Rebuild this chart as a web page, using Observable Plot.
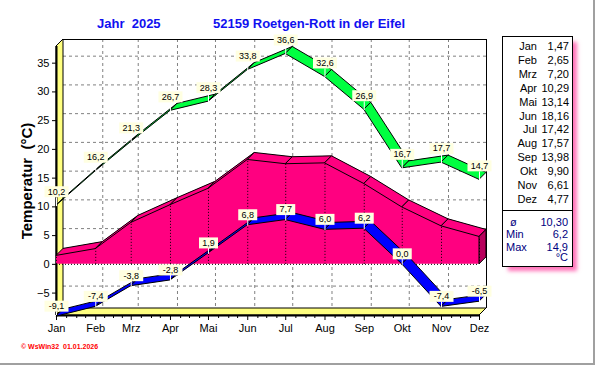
<!DOCTYPE html>
<html>
<head>
<meta charset="utf-8">
<script src="https://cdn.jsdelivr.net/npm/d3@7"></script>
<script src="https://cdn.jsdelivr.net/npm/@observablehq/plot@0.6"></script>
<style>
  body { margin: 0; background: #fff; }
  #wrap { position: relative; width: 595px; height: 365px; overflow: hidden; background: #fff;
          font-family: "Liberation Sans", Arial, sans-serif; }
  #wrap svg { position: absolute; left: 0; top: 0; }
  .ov { position: absolute; white-space: pre; }
  .title { font-size: 13px; font-weight: bold; color: #1010f0; line-height: 16px; top: 16px; }
  .legend { position: absolute; left: 502px; top: 36px; width: 71px; height: 231px; box-sizing: border-box;
            border: 1px solid #000; background: #fff; font-size: 11px; line-height: 14px;
            box-shadow: 5px 5px 4px -1px rgba(255, 0, 128, 0.55); }
  .legend div { position: absolute; white-space: pre; }
  .stat { color: #000080; }
  .credit { left: 21px; top: 342px; font-size: 7px; line-height: 10px; font-weight: bold; color: #ff0000; }
</style>
</head>
<body>
<div id="wrap"></div>
<script>
// ---------- data ----------
const months = ["Jan", "Feb", "Mrz", "Apr", "Mai", "Jun", "Jul", "Aug", "Sep", "Okt", "Nov", "Dez"];
const maxT  = [10.2, 16.2, 21.3, 26.7, 28.3, 33.8, 36.6, 32.6, 26.9, 16.7, 17.7, 14.7];
const minT  = [-9.1, -7.4, -3.8, -2.8, 1.9, 6.8, 7.7, 6.0, 6.2, 0.0, -7.4, -6.5];
const meanT = [1.47, 2.65, 7.20, 10.29, 13.14, 18.16, 17.42, 17.57, 13.98, 9.90, 6.61, 4.77];
const yTicks = [-5, 0, 5, 10, 15, 20, 25, 30, 35];
const statLabels = ["ø", "Min", "Max"];
const statValues = ["10,30", "6,2", "14,9"];
const unitLabel = "°C";
const title1 = "Jahr  2025";
const title2 = "52159 Roetgen-Rott in der Eifel";
const yLabel = "Temperatur\u00a0 (°C)";
const credit = "© WsWin32  01.01.2026";

// ---------- derived ----------
const monthStarts = months.map((m, i) => new Date(Date.UTC(2025, i, 1)));
const rows = months.map((m, i) => ({date: monthStarts[i], month: m, max: maxT[i], min: minT[i], mean: meanT[i]}));
const fmt1 = v => v.toFixed(1).replace(".", ",");
const fmt2 = v => v.toFixed(2).replace(".", ",");
const yDomain = [-8.9, 37.9];
const first = monthStarts[0], last = monthStarts[11];

// minor ticks: quarter-month positions
const minorTicks = [];
for (let i = 0; i < 11; i++) {
  const len = d3.utcDay.count(monthStarts[i], monthStarts[i + 1]);
  for (let k = 1; k <= 3; k++) minorTicks.push(d3.utcDay.offset(monthStarts[i], Math.round(len * k / 4)));
}

// ---------- styles ----------
const D = 7; // 3D depth in px
const PINK = "#ff0080", PINK_SIDE = "#b8005c", GREEN = "#00ff40", BLUE = "#0000ff", YELLOW = "#ffff80", TIP = "#ffffe1";

// extrusion render: draws each segment as a parallelogram shifted by (D, -D)
function extrude(fill, sw = 1) {
  return (index, scales, values) => {
    const X = values.x, Y = values.y;
    const g = d3.create("svg:g");
    for (let k = 0; k < index.length - 1; k++) {
      const i = index[k], j = index[k + 1];
      g.append("path")
        .attr("d", `M${X[i]},${Y[i]}L${X[j]},${Y[j]}L${X[j] + D},${Y[j] - D}L${X[i] + D},${Y[i] - D}Z`)
        .attr("fill", fill).attr("stroke", "#000").attr("stroke-width", sw).attr("stroke-linejoin", "round");
    }
    return g.node();
  };
}
const boxSymbol = {draw(ctx, size) { const w = Math.sqrt(size / Math.PI); ctx.rect(-w, -5.5, 2 * w, 11); }};
const lineShape = {draw(ctx, l) { ctx.moveTo(0, 0); ctx.lineTo(0, -l); }};
const halfW = s => (s.length * 5 + 4) / 2;

const wallPts = [{date: first, v: yDomain[1]}, {date: first, v: yDomain[0]}];
const floorPts = [{date: first, v: yDomain[0]}, {date: last, v: yDomain[0]}];
const sidePts = [{date: last, v: 0}, {date: last, v: meanT[11]}];

function labels(key, dy, tick) {
  return [
    Plot.vector(rows, {x: "date", y: key, length: tick, rotate: 0, anchor: "start", shape: lineShape, stroke: "#fff", strokeWidth: 1}),
    Plot.dot(rows, {x: "date", y: key, dy, symbol: boxSymbol, r: d => halfW(fmt1(d[key])), fill: TIP, stroke: null}),
    Plot.text(rows, {x: "date", y: key, dy, text: d => fmt1(d[key]), fontSize: 9, fill: "#000"})
  ];
}

const chart = Plot.plot({
  width: 595, height: 365,
  marginLeft: 56, marginRight: 116, marginTop: 46, marginBottom: 50,
  style: {background: "transparent", fontFamily: "'Liberation Sans', Arial, sans-serif", fontSize: "11px", overflow: "visible", color: "#000"},
  x: {type: "utc", domain: [first, last], label: null},
  y: {domain: yDomain, label: null},
  r: {type: "identity"},
  marks: [
    // back wall grid
    Plot.gridY(yTicks, {dx: D, dy: -D, stroke: "#808080", strokeOpacity: 1, strokeDasharray: "3,3"}),
    Plot.gridX(monthStarts.slice(1, -1), {dx: D, dy: -D, stroke: "#808080", strokeOpacity: 1, strokeDasharray: "3,3"}),
    Plot.ruleY([yDomain[1]], {dx: D, dy: -D, stroke: "#000"}),
    Plot.ruleX([last], {dx: D, dy: -D, stroke: "#000"}),
    // floor and left wall
    Plot.line(floorPts, {x: "date", y: "v", render: extrude(YELLOW)}),
    Plot.line(wallPts, {x: "date", y: "v", render: extrude(YELLOW)}),
    Plot.ruleX([first], {stroke: "#000", strokeWidth: 2}),
    Plot.ruleY([yDomain[0]], {stroke: "#000", strokeWidth: 2}),
    // mean: 3D pink area
    Plot.areaY(rows, {x: "date", y: "mean", fill: PINK, dx: D, dy: -D}),
    Plot.areaY(rows, {x: "date", y: "mean", fill: PINK}),
    Plot.line(rows, {x: "date", y: "mean", render: extrude(PINK)}),
    Plot.line(sidePts, {x: "date", y: "v", render: extrude(PINK_SIDE)}),
    Plot.ruleX(rows, {x: "date", y1: 0, y2: "mean", stroke: "#000", strokeDasharray: "1,2"}),
    Plot.ruleY([0], {stroke: "#000", strokeDasharray: "1,2"}),
    // max & min ribbons
    Plot.line(rows, {x: "date", y: "max", render: extrude(GREEN)}),
    Plot.line(rows, {x: "date", y: "min", render: extrude(BLUE)}),
    // value labels
    ...labels("max", -14, 8),
    ...labels("min", -10.5, 5),
    // axes
    Plot.axisY(yTicks, {tickSize: 4, tickPadding: 3, fontSize: 11, label: null, stroke: "#000"}),
    Plot.axisX(monthStarts, {tickSize: 5, tickPadding: 4, fontSize: 11, label: null, tickFormat: d => months[d.getUTCMonth()]}),
    Plot.axisX(minorTicks, {tickSize: 3, label: null, tickFormat: () => ""}),
    Plot.text([yLabel], {frameAnchor: "left", rotate: -90, dx: -29, textAnchor: "middle", fontSize: 15, fontWeight: "bold", fill: "#000"})
  ]
});

const wrap = document.getElementById("wrap");
wrap.appendChild(chart);

function ov(cls, text, left) {
  const d = document.createElement("div");
  d.className = "ov " + cls; d.textContent = text;
  if (left != null) d.style.left = left + "px";
  wrap.appendChild(d);
  return d;
}
ov("title", title1, 97);
ov("title", title2, 213);
ov("credit", credit);

// legend box
const lg = document.createElement("div");
lg.className = "legend";
function cell(text, top, left, width, align, cls) {
  const d = document.createElement("div");
  d.textContent = text;
  d.style.top = top + "px"; d.style.left = left + "px"; d.style.width = width + "px"; d.style.textAlign = align;
  if (cls) d.className = cls;
  lg.appendChild(d);
}
months.forEach((m, i) => {
  cell(m, 2 + i * 13.9, 0, 34, "right");
  cell(fmt2(meanT[i]), 2 + i * 13.9, 34, 32, "right");
});
const sep = document.createElement("div");
sep.style.cssText = "left:0;top:173px;width:69px;height:1px;background:#000;";
lg.appendChild(sep);
const statTops = [178, 190, 202.5];
statLabels.forEach((s, i) => {
  cell(s, statTops[i], i === 0 ? 7 : 3, 30, "left", "stat");
  cell(statValues[i], statTops[i], 20, 45, "right", "stat");
});
cell(unitLabel, 213, 20, 45, "right", "stat");
wrap.appendChild(lg);

// outer page border (right and bottom)
const br = document.createElement("div");
br.style.cssText = "position:absolute;left:593px;top:0;width:2px;height:365px;background:#a0a0a0;";
wrap.appendChild(br);
const bb = document.createElement("div");
bb.style.cssText = "position:absolute;left:0;top:363px;width:595px;height:2px;background:#a0a0a0;";
wrap.appendChild(bb);
</script>
</body>
</html>
